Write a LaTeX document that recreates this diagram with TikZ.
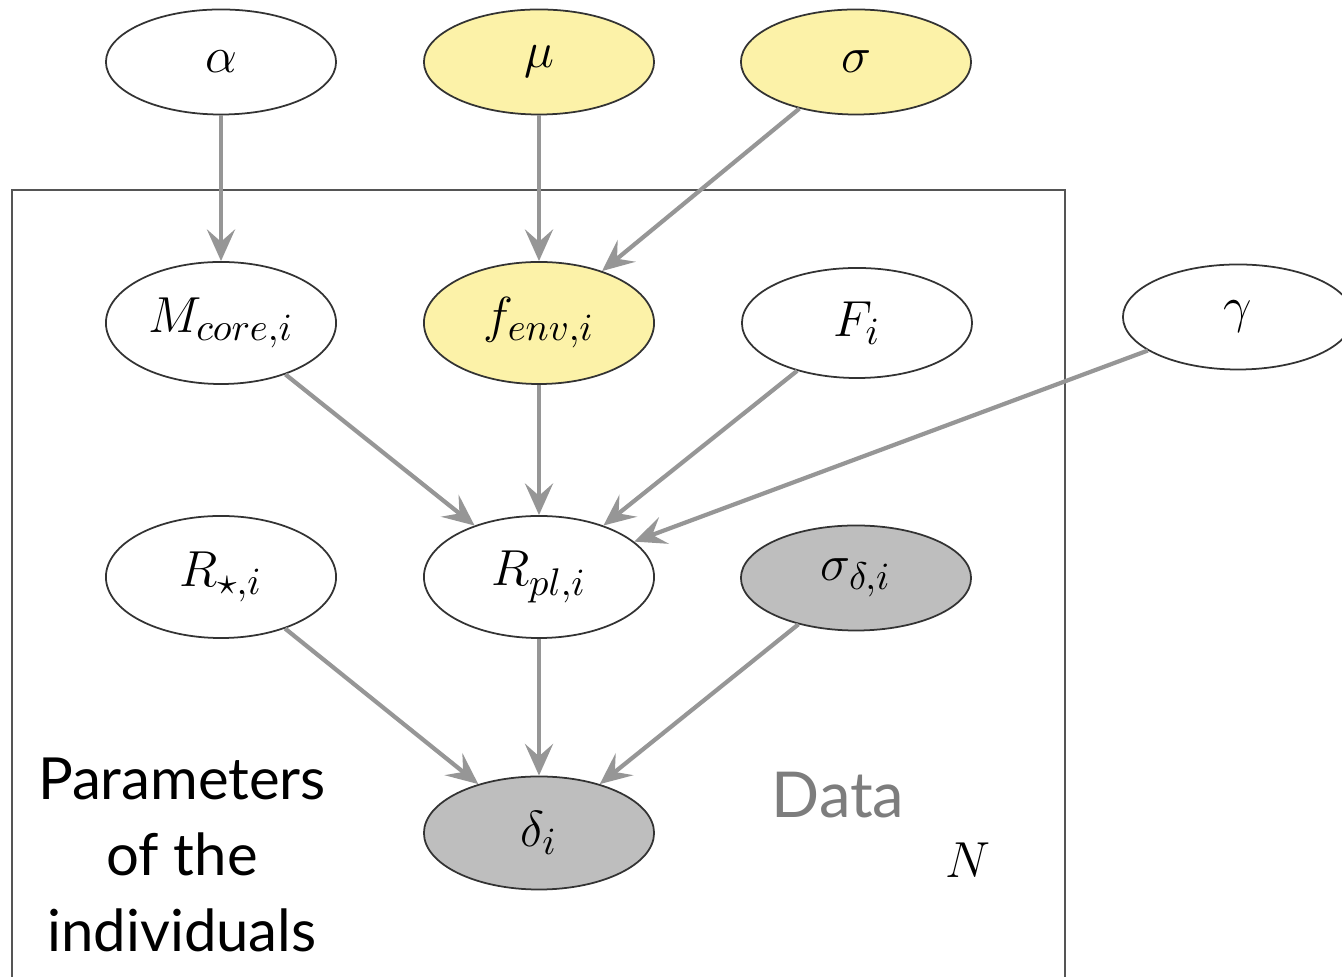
\documentclass[tikz,border=0pt]{standalone}
\usepackage{amsmath}
\usepackage{fontspec}
\setsansfont{Lato}
\usepackage{tikz}
\usetikzlibrary{arrows.meta, shapes.geometric}

\definecolor{hyperyellow}{RGB}{252,242,168}
\definecolor{obsgray}{RGB}{190,190,190}
\definecolor{edgegray}{RGB}{150,150,150}
\definecolor{datagray}{RGB}{125,125,125}
\definecolor{plategray}{RGB}{85,85,85}

\tikzset{
  var/.style={ellipse, draw=black!80, line width=0.5pt, fill=white,
    minimum width=2.3cm, minimum height=1.05cm, inner sep=0pt,
    font=\fontsize{15.5}{18}\selectfont},
  hyper/.style={var, fill=hyperyellow},
  obs/.style={var, fill=obsgray},
  tall/.style={minimum height=#1},
  dep/.style={-{Stealth[length=9pt, width=8pt, inset=3.5pt]}, draw=edgegray, line width=1.2pt}
}

\begin{document}
\begin{tikzpicture}[x=0.01cm, y=-0.01cm]
  \useasboundingbox (0,0) rectangle (1342,977);
  % plate
  \draw[plategray, line width=0.5pt] (12,977) -- (12,190) -- (1065,190) -- (1065,977);

  % hyperparameters
  \node[var]   (alpha) at (221,62)  {$\alpha$};
  \node[hyper] (mu)    at (539,62)  {$\mu$};
  \node[hyper] (sig)   at (856,62)  {$\sigma$};
  \node[var]   (gam)   at (1238,317) {$\gamma$};

  % individual parameters
  \node[var, tall=1.22cm]   (mcore) at (221,323) {$M_{core,i}$};
  \node[hyper, tall=1.22cm] (fenv)  at (539,323) {$f_{env,i}$};
  \node[var, tall=1.1cm]    (fi)    at (857,323) {$F_i$};
  \node[var, tall=1.22cm]   (rstar) at (221,577) {$R_{\star,i}$};
  \node[var, tall=1.22cm]   (rpl)   at (539,577) {$R_{pl,i}$};
  \node[obs]                (sigd)  at (856,578) {$\sigma_{\delta,i}$};
  \node[obs, tall=1.13cm]   (delta) at (539,833) {$\delta_i$};

  \draw[dep] (alpha) -- (mcore);
  \draw[dep] (mu) -- (fenv);
  \draw[dep] (sig) -- (fenv);
  \draw[dep] (mcore) -- (rpl);
  \draw[dep] (fenv) -- (rpl);
  \draw[dep] (fi) -- (rpl);
  \draw[dep] (gam) -- (rpl);
  \draw[dep] (rstar) -- (delta);
  \draw[dep] (rpl) -- (delta);
  \draw[dep] (sigd) -- (delta);

  % labels
  \node[align=center, font=\sffamily\fontsize{16.5}{21.5}\selectfont] (params) at (182,855)
    {Parameters\\of the\\individuals};
  \node[datagray, font=\sffamily\fontsize{18}{22}\selectfont] (data) at (838,795) {Data};
  \node[font=\fontsize{15.5}{18}\selectfont] (plateN) at (968,860) {$N$};
\end{tikzpicture}
\end{document}
